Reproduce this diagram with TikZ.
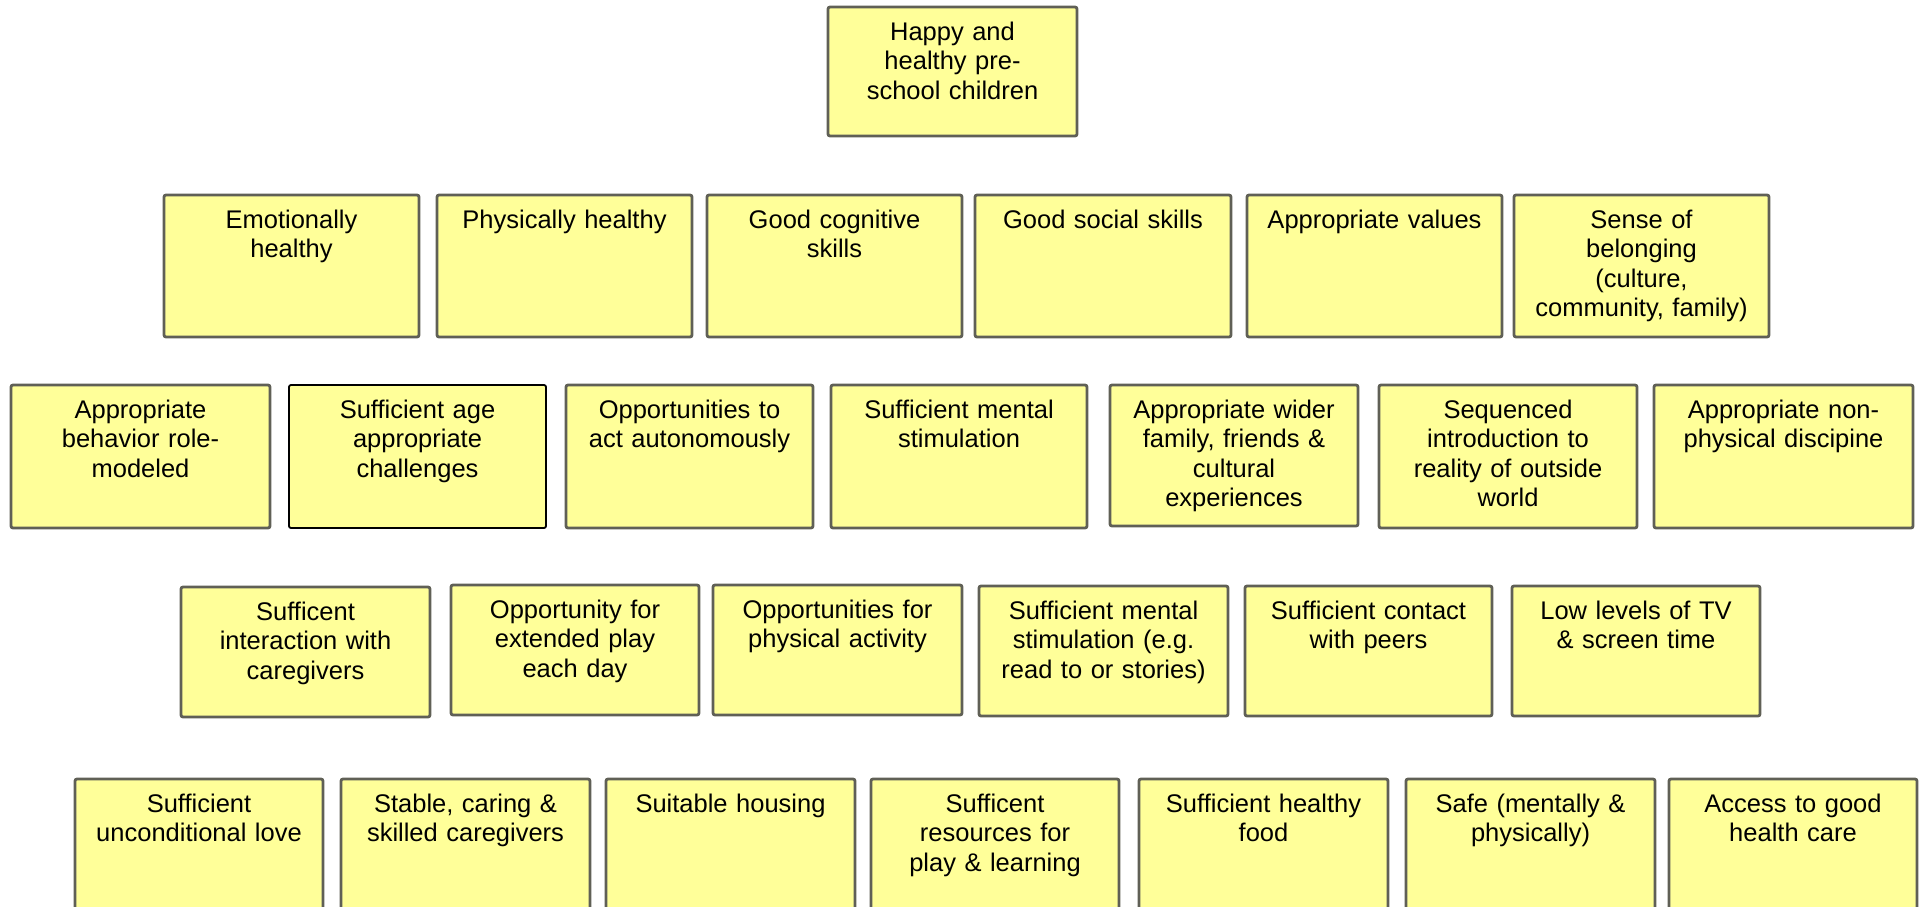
\documentclass[tikz,border=0pt]{standalone}
\usepackage{fontspec}
\setmainfont{Liberation Sans}
\usepackage{tikz}
\definecolor{notefill}{RGB}{255,255,153}
\definecolor{noteline}{RGB}{96,96,86}

\begin{document}
\begin{tikzpicture}[x=1pt,y=-1pt]
			\tikzset{cell/.style = {shape=rectangle,draw=noteline,fill=notefill,line width=2.8pt,rounded corners=2pt,
					anchor=north west,outer sep=0pt,inner xsep=0pt,inner ysep=0pt,
					text width=236pt,align=center,text height=33pt,font=\fontsize{25.5}{29.6}\selectfont}}
			
			\tikzset{goalrow/.style = {text depth=96pt}, row1/.style = {text depth=109pt},
				row2/.style = {text depth=110pt}, row3/.style = {text depth=97pt}, row4/.style = {text depth=107pt}}
			
			\useasboundingbox (0,0) rectangle (1921,906);
			\clip (0,0) rectangle (1921,906);
			
			% goal
			
			\node[cell,goalrow,minimum width=249pt] (goal) at (828,7) {Happy and\\healthy pre-\\school children};
			
			% outcomes
			
			\node[cell,row1,minimum width=255pt] (emo) at (164,195) {Emotionally\\healthy};
			
			\node[cell,row1,minimum width=255pt] (phys) at (437,195) {Physically healthy};
			
			\node[cell,row1,minimum width=255pt] (cog) at (707,195) {Good cognitive\\skills};
			
			\node[cell,row1,minimum width=256pt] (soc) at (975,195) {Good social skills};
			
			\node[cell,row1,minimum width=255pt] (val) at (1247,195) {Appropriate values};
			
			\node[cell,row1,minimum width=255pt] (belong) at (1514,195) {Sense of\\belonging\\(culture,\\community, family)};
			
			% second level
			
			\node[cell,row2,minimum width=259pt] (role) at (11,385) {Appropriate\\behavior role-\\modeled};
			
			\node[cell,row2,minimum width=257pt,draw=black,line width=1.8pt] (chal) at (289,385) {Sufficient age\\appropriate\\challenges};
			
			\node[cell,row2,minimum width=247pt] (auto) at (566,385) {Opportunities to\\act autonomously};
			
			\node[cell,row2,minimum width=256pt] (ment) at (831,385) {Sufficient mental\\stimulation};
			
			\node[cell,row2,minimum width=248pt,text depth=108pt] (wider) at (1110,385) {Appropriate wider\\family, friends \&\\cultural\\experiences};
			
			\node[cell,row2,minimum width=258pt] (seq) at (1379,385) {Sequenced\\introduction to\\reality of outside\\world};
			
			\node[cell,row2,minimum width=259pt] (disc) at (1654,385) {Appropriate non-\\physical discipine};
			
			% third level
			
			\node[cell,row3,minimum width=249pt] (inter) at (181,587) {Sufficent\\interaction with\\caregivers};
			
			\node[cell,row3,minimum width=248pt] (play) at (451,585) {Opportunity for\\extended play\\each day};
			
			\node[cell,row3,minimum width=249pt] (act) at (713,585) {Opportunities for\\physical activity};
			
			\node[cell,row3,minimum width=249pt] (stim) at (979,586) {Sufficient mental\\stimulation (e.g.\\read to or stories)};
			
			\node[cell,row3,minimum width=247pt] (peers) at (1245,586) {Sufficient contact\\with peers};
			
			\node[cell,row3,minimum width=248pt] (tv) at (1512,586) {Low levels of TV\\\& screen time};
			
			% basic needs
			
			\node[cell,row4,minimum width=248pt] (love) at (75,779) {Sufficient\\unconditional love};
			
			\node[cell,row4,minimum width=249pt] (care) at (341,779) {Stable, caring \&\\skilled caregivers};
			
			\node[cell,row4,minimum width=249pt] (house) at (606,779) {Suitable housing};
			
			\node[cell,row4,minimum width=248pt] (res) at (871,779) {Sufficent\\resources for\\play \& learning};
			
			\node[cell,row4,minimum width=249pt] (food) at (1139,779) {Sufficient healthy\\food};
			
			\node[cell,row4,minimum width=249pt] (safe) at (1406,779) {Safe (mentally \&\\physically)};
			
			\node[cell,row4,minimum width=248pt] (health) at (1669,779) {Access to good\\health care};
			\end{tikzpicture}
\end{document}
